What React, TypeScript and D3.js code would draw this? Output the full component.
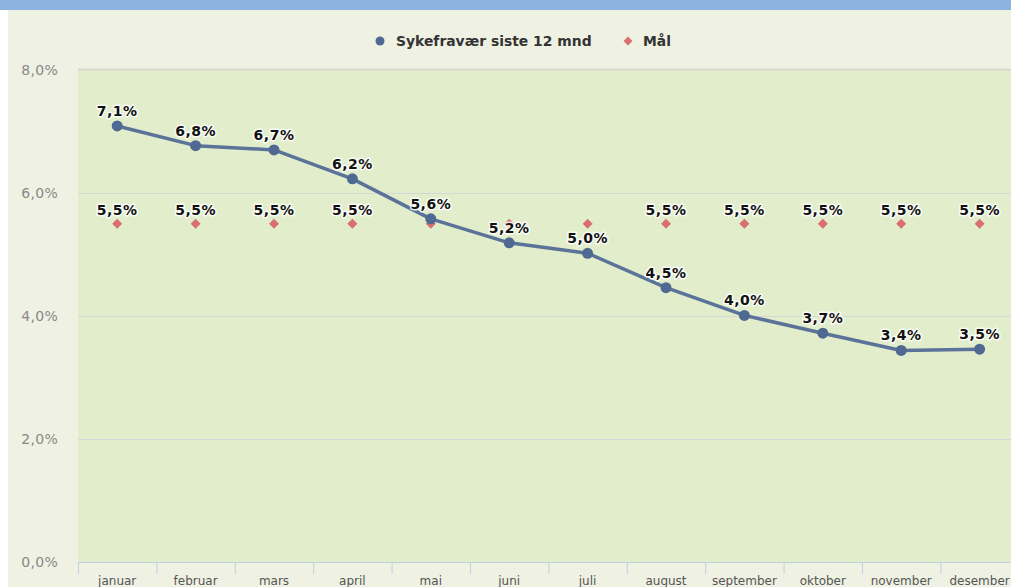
import React from "react";
import * as d3 from "d3";

const months = ["januar", "februar", "mars", "april", "mai", "juni", "juli", "august", "september", "oktober", "november", "desember"];
const sickLeave = [7.09, 6.77, 6.70, 6.23, 5.58, 5.19, 5.02, 4.46, 4.01, 3.72, 3.44, 3.46];
const goal = [5.5, 5.5, 5.5, 5.5, 5.5, 5.5, 5.5, 5.5, 5.5, 5.5, 5.5, 5.5];
const yTicks = [0, 2, 4, 6, 8];
const seriesNames = ["Sykefravær siste 12 mnd", "Mål"];

const W = 1011, H = 587;
const plotLeft = 78, plotTop = 70, plotBottom = 562;
const bandW = 78.4;

const fmt = (v: number) => v.toFixed(1).replace(".", ",") + "%";

export default function App() {
  const x = d3.scaleBand<string>().domain(months).range([plotLeft, plotLeft + bandW * months.length]).padding(0);
  const y = d3.scaleLinear().domain([0, 8]).range([plotBottom, plotTop]);
  const cx = (m: string) => (x(m) as number) + x.bandwidth() / 2;
  const line = d3.line<number>().x((_, i) => cx(months[i])).y((v) => y(v));
  const diamond = (px: number, py: number, r: number) => `M${px},${py - r}L${px + r},${py}L${px},${py + r}L${px - r},${py}Z`;
  const font = "'DejaVu Sans', Verdana, sans-serif";
  const labelStyle: React.CSSProperties = { paintOrder: "stroke", stroke: "#ffffff", strokeWidth: 3, strokeOpacity: 0.85, strokeLinejoin: "round" };

  return (
    <div style={{ position: "absolute", left: 0, top: 0 }}>
      <svg width={W} height={H} style={{ display: "block" }} fontFamily={font}>
        <defs>
          <clipPath id="clip"><rect x={0} y={0} width={W} height={H} /></clipPath>
        </defs>
        <rect x={0} y={0} width={W} height={H} fill="#ffffff" />
        <rect x={8} y={10} width={W - 8} height={H - 10} fill="#eff2e3" />
        <rect x={0} y={0} width={W} height={10} fill="#8db3e2" />
        <rect x={plotLeft} y={plotTop} width={W - plotLeft} height={plotBottom - plotTop + 1} fill="#e2eecb" />
        <line x1={plotLeft} x2={W} y1={plotTop - 0.5} y2={plotTop - 0.5} stroke="#d6d8d0" strokeWidth={2} />
        {yTicks.map((t) => (
          <g key={t}>
            {t > 0 && t < 8 && (
              <line x1={plotLeft} x2={W} y1={y(t) + 0.5} y2={y(t) + 0.5} stroke="#d4d8d8" strokeWidth={1} />
            )}
            <text x={58} y={y(t) + 5} textAnchor="end" fontSize={14} fill="#888" letterSpacing={0.3}>{fmt(t)}</text>
          </g>
        ))}
        <line x1={plotLeft} x2={W} y1={plotBottom + 0.5} y2={plotBottom + 0.5} stroke="#bcd0e2" strokeWidth={1} />
        {months.map((m) => (
          <g key={m}>
            <line x1={(x(m) as number) + 0.5} x2={(x(m) as number) + 0.5} y1={plotBottom} y2={plotBottom + 12} stroke="#bcd0e2" />
            <text x={cx(m)} y={585} textAnchor="middle" fontSize={12} fill="#555">{m}</text>
          </g>
        ))}
        <g clipPath="url(#clip)">
          {goal.map((v, i) => (
            <path key={"g" + i} d={diamond(cx(months[i]), y(v), 5)} fill="#d9706f" />
          ))}
          <path d={line(sickLeave) || ""} fill="none" stroke="#5b7399" strokeWidth={3.5} strokeLinejoin="round" />
          {sickLeave.map((v, i) => (
            <circle key={"c" + i} cx={cx(months[i])} cy={y(v)} r={5.5} fill="#4f6993" />
          ))}
          {goal.map((v, i) =>
            Math.abs(sickLeave[i] - v) > 0.6 ? (
              <text key={"gl" + i} x={cx(months[i])} y={y(v) - 9} textAnchor="middle" fontSize={14} fontWeight="bold" fill="#111" letterSpacing={0.5} style={labelStyle}>{fmt(v)}</text>
            ) : null
          )}
          {sickLeave.map((v, i) => (
            <text key={"sl" + i} x={cx(months[i])} y={y(v) - 10} textAnchor="middle" fontSize={14} fontWeight="bold" fill="#111" letterSpacing={0.5} style={labelStyle}>{fmt(v)}</text>
          ))}
        </g>
        <circle cx={380} cy={41} r={4.5} fill="#4f6993" />
        <text x={396} y={46} fontSize={13.9} fontWeight="bold" fill="#333">{seriesNames[0]}</text>
        <path d={diamond(628, 41, 4.5)} fill="#d9706f" />
        <text x={643} y={46} fontSize={13.9} fontWeight="bold" fill="#333">{seriesNames[1]}</text>
      </svg>
    </div>
  );
}
